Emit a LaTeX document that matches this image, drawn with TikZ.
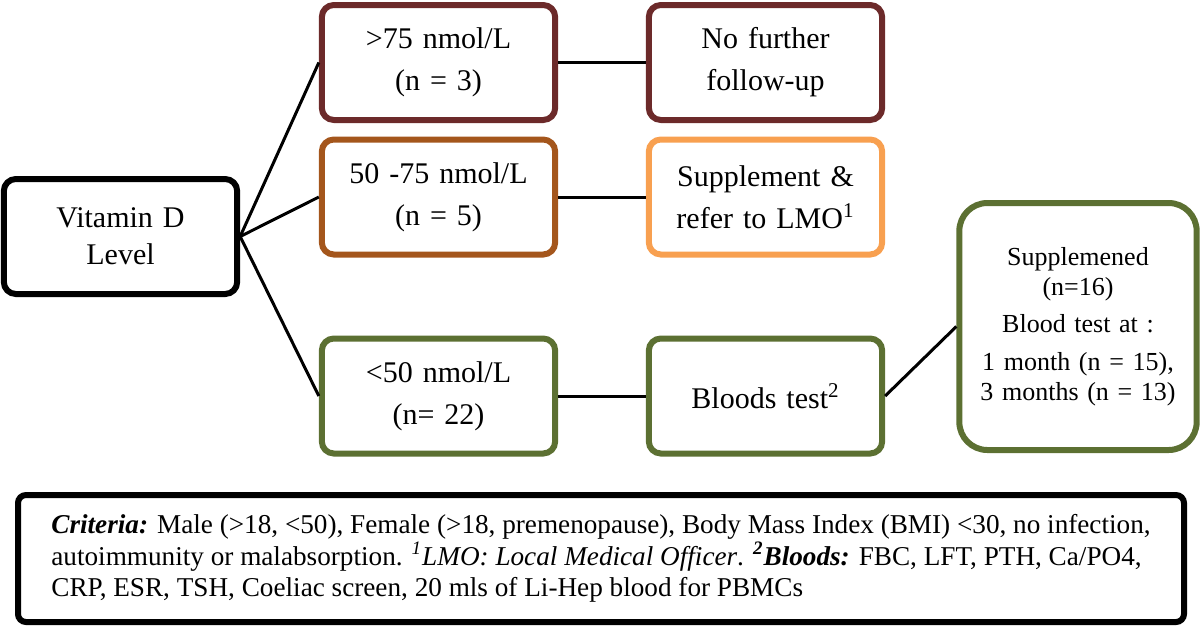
\documentclass[tikz,border=0pt]{standalone}
\usepackage{fontspec}
\setmainfont{Liberation Serif}
\usetikzlibrary{positioning}

\definecolor{maroon}{RGB}{108,42,42}
\definecolor{rust}{RGB}{164,86,28}
\definecolor{apricot}{RGB}{248,160,80}
\definecolor{olive}{RGB}{92,112,50}

\begin{document}
\begin{tikzpicture}[node distance=163.5pt,
    box/.style={rectangle, draw, rounded corners=6pt, line width=3pt, fill=white, text width=110pt, align=center, minimum width=115.5pt, minimum height=57.5pt, font=\fontsize{15}{21}\selectfont},
    link/.style={line width=1.5pt}]

    \useasboundingbox (0,0) rectangle (600pt,-314pt);

    % levels
    \node[box, draw=black, font=\fontsize{15}{18.5}\selectfont] (vit) at (60.25pt,-118.25pt) {Vitamin D\\ Level};
    \node[box, draw=maroon] (high) at (219.25pt,-31.25pt) {>75 nmol/L\\ (n = 3)};
    \node[box, draw=rust, below of=high, node distance=67.25pt] (mid) {50 -75 nmol/L\\ (n = 5)};
    \node[box, draw=olive, below of=mid, node distance=99.5pt] (low) {<50 nmol/L\\ (n= 22)};

    % actions
    \node[box, draw=maroon, right of=high] (nofu) {No further\\ follow-up};
    \node[box, draw=apricot, right of=mid] (supp) {Supplement \&\\ refer to LMO\textsuperscript{1}};
    \node[box, draw=olive, right of=low] (blood) {Bloods test\textsuperscript{2}};
    \node[box, draw=olive, rounded corners=14pt, text width=112pt, minimum width=117pt, minimum height=123.5pt, font=\fontsize{13}{15}\selectfont] (suppd) at (539pt,-163.25pt)
        {Supplemened\\ (n=16)\\[3.5pt] Blood test at :\\[4pt] 1 month (n = 15),\\ 3 months (n = 13)};

    % criteria
    \node[rectangle, draw, rounded corners=4pt, line width=3pt, minimum width=583pt, minimum height=63.5pt, align=left, font=\fontsize{13.6}{15.8}\selectfont] (crit) at (300.5pt,-279.25pt)
        {\textbf{\textit{Criteria:}} Male (>18, <50), Female (>18, premenopause), Body Mass Index (BMI) <30, no infection,\\
         autoimmunity or malabsorption. \textsuperscript{\textit{1}}\textit{LMO: Local Medical Officer}. \textsuperscript{\textbf{\textit{2}}}\textbf{\textit{Bloods:}} FBC, LFT, PTH, Ca/PO4,\\
         CRP, ESR, TSH, Coeliac screen, 20 mls of Li-Hep blood for PBMCs};

    \draw[link] (vit.east) -- (high.west);
    \draw[link] (vit.east) -- (mid.west);
    \draw[link] (vit.east) -- (low.west);
    \draw[link] (high) -- (nofu);
    \draw[link] (mid) -- (supp);
    \draw[link] (low) -- (blood);
    \draw[link] (blood.east) -- (suppd.west);
\end{tikzpicture}
\end{document}
